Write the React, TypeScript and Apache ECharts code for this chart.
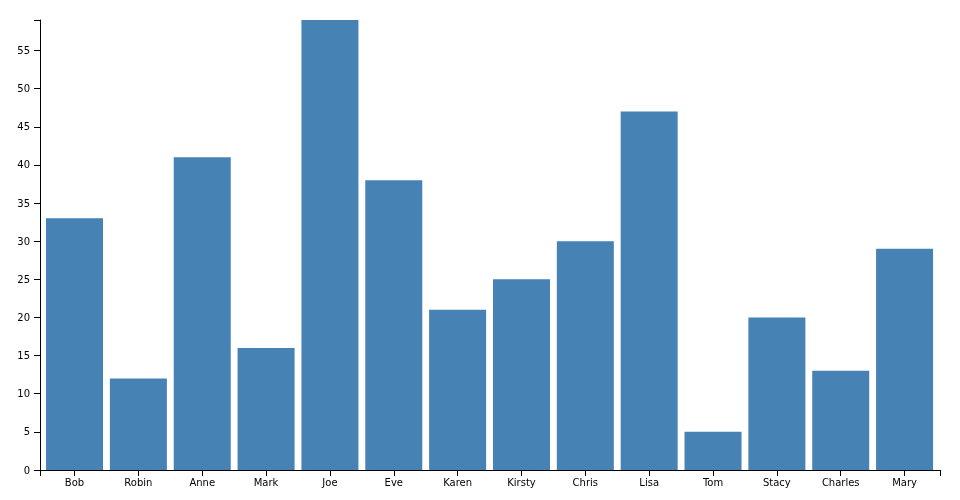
import React, { useEffect, useRef } from "react";
import * as echarts from "echarts";

const categories = ["Bob", "Robin", "Anne", "Mark", "Joe", "Eve", "Karen", "Kirsty", "Chris", "Lisa", "Tom", "Stacy", "Charles", "Mary"];
const values = [33, 12, 41, 16, 59, 38, 21, 25, 30, 47, 5, 20, 13, 29];
const yTickLabels = [0, 5, 10, 15, 20, 25, 30, 35, 40, 45, 50, 55];
const yMax = 59;

export default function App() {
  const ref = useRef<HTMLDivElement>(null);
  useEffect(() => {
    if (!ref.current) return;
    const chart = echarts.init(ref.current, null, { renderer: "svg" });
    const font = { fontFamily: "DejaVu Sans", fontSize: 10, color: "#000" };
    const black = { color: "#000", width: 1 };
    chart.setOption({
      animation: false,
      grid: [
        { left: 40, right: 20, top: 20, bottom: 30, containLabel: false },
        { left: 42.6, right: 23.5, top: 20, bottom: 30, containLabel: false },
      ],
      xAxis: [
        {
          type: "value",
          gridIndex: 0,
          min: 0,
          max: 1,
          position: "bottom",
          axisLine: { show: true, lineStyle: black },
          axisLabel: { show: false },
          splitLine: { show: false },
          axisTick: { show: true, length: 6, customValues: [0, 1], lineStyle: black },
        },
        {
          type: "category",
          gridIndex: 1,
          data: categories,
          axisLine: { show: false },
          axisTick: { show: true, alignWithLabel: true, length: 6, lineStyle: black },
          axisLabel: { ...font, margin: 7, interval: 0 },
          splitLine: { show: false },
        },
      ],
      yAxis: [
        {
          type: "value",
          gridIndex: 0,
          min: 0,
          max: yMax,
          interval: 5,
          axisLine: { show: true, lineStyle: black },
          axisTick: { show: true, length: 6, customValues: [...yTickLabels, yMax], lineStyle: black },
          axisLabel: { ...font, margin: 10, customValues: yTickLabels },
          splitLine: { show: false },
        },
        {
          type: "value",
          gridIndex: 1,
          min: 0,
          max: yMax,
          interval: 5,
          show: false,
          splitLine: { show: false },
        },
      ],
      series: [
        {
          type: "bar",
          xAxisIndex: 1,
          yAxisIndex: 1,
          data: values,
          barWidth: 57,
          itemStyle: { color: "#4682b4" },
        },
      ],
    });
    return () => chart.dispose();
  }, []);
  return <div ref={ref} style={{ position: "fixed", left: 0, top: 0, width: 960, height: 500 }} />;
}
